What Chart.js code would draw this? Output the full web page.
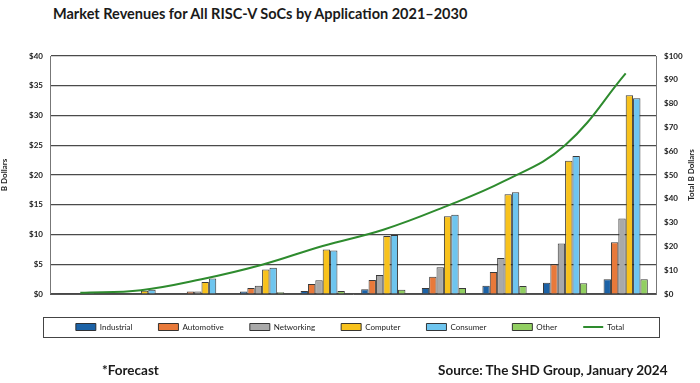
<!DOCTYPE html>
<html>
<head>
<meta charset="utf-8">
<script src="https://cdn.jsdelivr.net/npm/chart.js@4/dist/chart.umd.min.js"></script>
<style>
  html, body { margin: 0; padding: 0; background: #fff; }
  #wrap { position: relative; width: 700px; height: 383px; font-family: Lato, "Open Sans", sans-serif; }
  #chart { position: absolute; left: 0; top: 0; }
  .title { position: absolute; left: 53px; top: 5px; font-weight: 700; font-size: 14.5px; color: #1a1a1a; white-space: nowrap; }
  .foot { position: absolute; top: 362px; font-weight: 700; font-size: 13.5px; color: #1a1a1a; white-space: nowrap; }
</style>
</head>
<body>
<div id="wrap">
  <div class="title">Market Revenues for All RISC-V SoCs by Application 2021–2030</div>
  <canvas id="chart" width="700" height="383"></canvas>
  <div class="foot" style="left:102px">*Forecast</div>
  <div class="foot" style="left:438px">Source: The SHD Group, January 2024</div>
</div>
<script>
const years = ['2021', '2022', '2023*', '2024*', '2025*', '2026*', '2027*', '2028*', '2029*', '2030*'];

const industrial = [0.05, 0.1, 0.1, 0.4, 0.5, 0.8, 1.0, 1.4, 1.9, 2.5];
const automotive = [0.05, 0.1, 0.4, 1.0, 1.7, 2.35, 2.9, 3.7, 5.0, 8.7];
const networking = [0.05, 0.1, 0.4, 1.4, 2.3, 3.2, 4.5, 6.05, 8.5, 12.7];
const computer = [0.1, 0.55, 2.0, 4.1, 7.5, 9.75, 13.05, 16.75, 22.4, 33.4];
const consumer = [0.15, 0.7, 2.6, 4.4, 7.3, 9.9, 13.3, 17.1, 23.2, 32.9];
const other = [0.05, 0.1, 0.1, 0.3, 0.5, 0.7, 1.0, 1.35, 1.8, 2.5];
const total = [0.5, 1.6, 6.2, 12.3, 20.2, 27, 36.5, 47.5, 62.5, 92.7];

const colors = {
    industrial: '#1c62a6',
    automotive: '#e8793a',
    networking: '#a9a9a9',
    computer: '#f8c21c',
    consumer: '#6ec5ef',
    other: '#92cf62',
    total: '#2e8b2e'
};

const barDefaults = {
    type: 'bar',
    yAxisID: 'y',
    borderColor: 'rgba(35, 35, 35, 0.9)',
    borderWidth: 1,
    barPercentage: 1,
    categoryPercentage: 0.73,
    order: 1
};

const tickFont = { family: 'Lato', size: 8, weight: 'bold' };

// right axis title reads bottom-to-top, so draw it by hand; also frame the legend
const extras = {
    id: 'extras',
    afterDraw(chart) {
        const { ctx, chartArea } = chart;
        ctx.save();
        ctx.font = 'bold 8px Lato';
        ctx.fillStyle = '#222';
        ctx.textAlign = 'center';
        ctx.textBaseline = 'middle';
        ctx.translate(691, (chartArea.top + chartArea.bottom) / 2);
        ctx.rotate(-Math.PI / 2);
        ctx.fillText('Total B Dollars', 0, 0);
        ctx.restore();

        const hb = chart.legend.legendHitBoxes[0];
        if (hb) {
            ctx.save();
            ctx.strokeStyle = '#444';
            ctx.lineWidth = 1;
            ctx.strokeRect(chartArea.left - 6.5, hb.top - 5.5, chartArea.right - chartArea.left + 10, hb.height + 12);
            ctx.restore();
        }
    }
};

new Chart(document.getElementById('chart'), {
    data: {
        labels: years,
        datasets: [
            { ...barDefaults, label: 'Industrial', data: industrial, backgroundColor: colors.industrial },
            { ...barDefaults, label: 'Automotive', data: automotive, backgroundColor: colors.automotive },
            { ...barDefaults, label: 'Networking', data: networking, backgroundColor: colors.networking },
            { ...barDefaults, label: 'Computer', data: computer, backgroundColor: colors.computer },
            { ...barDefaults, label: 'Consumer', data: consumer, backgroundColor: colors.consumer },
            { ...barDefaults, label: 'Other', data: other, backgroundColor: colors.other },
            {
                type: 'line',
                label: 'Total',
                data: total,
                yAxisID: 'y1',
                borderColor: colors.total,
                backgroundColor: colors.total,
                borderWidth: 2,
                pointRadius: 0,
                tension: 0.4,
                order: 0
            }
        ]
    },
    options: {
        responsive: false,
        animation: false,
        layout: { padding: { top: 56, bottom: 42, left: 0, right: 0 } },
        plugins: {
            tooltip: { enabled: false },
            legend: {
                position: 'bottom',
                labels: {
                    color: '#222',
                    font: { family: 'Lato', size: 8 },
                    padding: 26,
                    usePointStyle: true,
                    pointStyleWidth: 20,
                    boxHeight: 7,
                    sort: (a, b) => a.datasetIndex - b.datasetIndex,
                    generateLabels(chart) {
                        const items = Chart.defaults.plugins.legend.labels.generateLabels(chart);
                        return items.map(it => {
                            const ds = chart.data.datasets[it.datasetIndex];
                            if (ds.type === 'line') {
                                it.pointStyle = 'line';
                                it.strokeStyle = colors.total;
                                it.lineWidth = 2;
                            } else {
                                it.pointStyle = 'rect';
                                it.fillStyle = ds.backgroundColor;
                                it.strokeStyle = 'rgba(35, 35, 35, 0.9)';
                                it.lineWidth = 1;
                            }
                            return it;
                        });
                    }
                }
            }
        },
        scales: {
            x: {
                grid: { display: false },
                border: { color: '#555' },
                ticks: { color: '#222', font: tickFont, padding: 4, maxRotation: 0 },
                afterFit(scale) { scale.height = 3; }
            },
            y: {
                position: 'left',
                min: 0,
                max: 40,
                ticks: {
                    stepSize: 5,
                    color: '#222',
                    font: tickFont,
                    padding: 7,
                    callback: v => '$' + v
                },
                grid: { color: '#4a4a4a', lineWidth: 1.2, drawTicks: false },
                border: { color: '#777' },
                title: { display: true, text: 'B Dollars', color: '#222', font: { family: 'Lato', size: 8, weight: 'bold' }, padding: 0 },
                afterFit(scale) { scale.width = 50; }
            },
            y1: {
                position: 'right',
                min: 0,
                max: 100,
                ticks: {
                    stepSize: 10,
                    color: '#222',
                    font: tickFont,
                    padding: 8,
                    callback: v => '$' + v
                },
                grid: { display: false, drawTicks: false },
                border: { color: '#777' },
                afterFit(scale) { scale.width = 44; }
            }
        }
    },
    plugins: [extras]
});
</script>
</body>
</html>
